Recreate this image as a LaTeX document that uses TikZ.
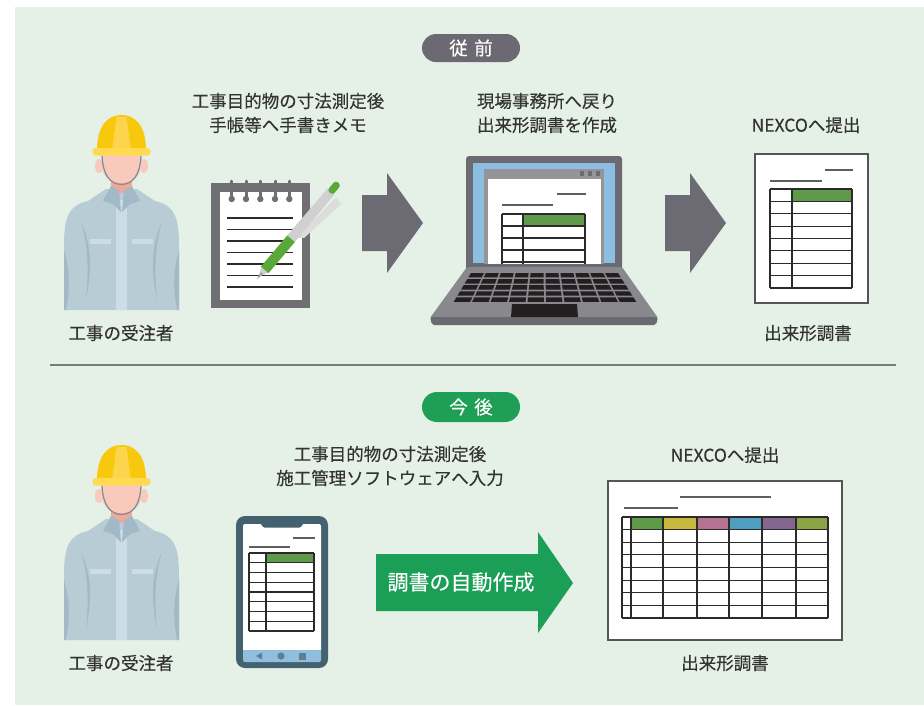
\documentclass[tikz,border=0pt]{standalone}
\usepackage{fontspec}
\setmainfont{Noto Sans CJK JP}
\newfontfamily\labelfont[FakeBold=0.3]{Noto Sans CJK JP}
\usetikzlibrary{calc}

\definecolor{bgmint}{HTML}{E5F0E6}
\definecolor{txt}{HTML}{333333}
\definecolor{sepgray}{HTML}{7A7A7A}
\definecolor{arrowgray}{HTML}{6C6A72}
\definecolor{pillgray}{HTML}{6B6A73}
\definecolor{pillgreen}{HTML}{1F9F55}
\definecolor{arrowgreen}{HTML}{1B9E56}
\definecolor{tablegreen}{HTML}{5F9A4B}
\definecolor{colyellow}{HTML}{C6B93E}
\definecolor{colpink}{HTML}{B77191}
\definecolor{colblue}{HTML}{4F9DBF}
\definecolor{colpurple}{HTML}{83678F}
\definecolor{cololive}{HTML}{8AA446}
\definecolor{helmet}{HTML}{F7C80C}
\definecolor{helmetlight}{HTML}{FDD54C}
\definecolor{brim}{HTML}{FFDA50}
\definecolor{skin}{HTML}{F9C9BB}
\definecolor{neckpink}{HTML}{F3A798}
\definecolor{strap}{HTML}{7E8C96}
\definecolor{jacket}{HTML}{B8CCD6}
\definecolor{jacketdark}{HTML}{A2BAC7}
\definecolor{jacketlight}{HTML}{CCDDE5}
\definecolor{padgray}{HTML}{6E6E73}
\definecolor{pengreen}{HTML}{5AA838}
\definecolor{pengray}{HTML}{D0D0D0}
\definecolor{clipgray}{HTML}{DCDCDC}
\definecolor{nibgray}{HTML}{A8A8AC}
\definecolor{bezel}{HTML}{6B6A70}
\definecolor{screenblue}{HTML}{8BBEE0}
\definecolor{wingray}{HTML}{949499}
\definecolor{basegray}{HTML}{88888D}
\definecolor{keyblack}{HTML}{231F20}
\definecolor{phonebody}{HTML}{44616F}
\definecolor{navblue}{HTML}{8FBEDF}
\definecolor{navicon}{HTML}{5F7E8E}
\definecolor{docedge}{HTML}{555555}
\definecolor{docline}{HTML}{5F5F5F}
\definecolor{gridline}{HTML}{2B2B2B}

% construction worker in a hard hat, drawn at a vertical offset
\newcommand\drawworker[1]{%
\begin{scope}[shift={(0,#1)}]
  % jacket
  \fill[jacket] (64,310) -- (64,245) .. controls (64,215) and (70,205) .. (88,201)
    -- (106,189) -- (137,189) -- (155,201) .. controls (173,205) and (179,215) .. (179,245)
    -- (179,310) -- cycle;
  % arm creases
  \fill[jacketdark] (81,222) .. controls (88,245) and (89,270) .. (86,300)
    .. controls (92,270) and (92,245) .. (81,222) -- cycle;
  \fill[jacketdark] (162,222) .. controls (155,245) and (154,270) .. (157,300)
    .. controls (151,270) and (151,245) .. (162,222) -- cycle;
  \fill[jacketdark] (64,250) .. controls (70,270) and (70,290) .. (66,310) -- (64,310) -- cycle;
  \fill[jacketdark] (179,250) .. controls (173,270) and (173,290) .. (177,310) -- (179,310) -- cycle;
  % placket and pocket flaps
  \fill[jacketlight] (116,200) rectangle (127,310);
  \fill[jacketlight] (90,239) rectangle (111,244);
  \fill[jacketlight] (132,239) rectangle (153,244);
  % neck
  \fill[neckpink] (111,176) rectangle (132,193);
  % collar
  \fill[jacketdark] (103,201) -- (111,186) -- (119,190) -- (121,212) -- (113,204) -- cycle;
  \fill[jacketdark] (140,201) -- (132,186) -- (124,190) -- (122,212) -- (130,204) -- cycle;
  % ears and face
  \fill[skin] (99,166) ellipse (4 and 7);
  \fill[skin] (144,166) ellipse (4 and 7);
  \fill[skin] (101.5,152) -- (101.5,164) .. controls (102,178) and (111,183) .. (121.5,183)
    .. controls (132,183) and (141,178) .. (141.5,164) -- (141.5,152) -- cycle;
  % chin strap
  \draw[strap, line width=1.2pt] (102,156) .. controls (103,175) and (110,184) .. (121.5,184.5)
    .. controls (133,184) and (140,175) .. (141,156);
  % helmet
  \fill[helmet] (97,151) .. controls (97,125) and (108,115) .. (121.5,115)
    .. controls (135,115) and (146,125) .. (146,151) -- cycle;
  \fill[helmetlight] (116.5,117) -- (126.5,117) -- (131,150) -- (112,150) -- cycle;
  \fill[brim, rounded corners=3] (92.5,148) rectangle (150.5,155.5);
\end{scope}}

\begin{document}
\begin{tikzpicture}[x=1pt,y=-1pt,
  lbl/.style={text=txt, font=\labelfont\fontsize{17.5}{24}\selectfont, inner sep=0pt, align=center},
  pilltext/.style={text=white, font=\labelfont\fontsize{18.5}{20}\selectfont, inner sep=0pt},
  paper/.style={fill=white, draw=docedge, line width=1.2pt},
  gridln/.style={draw=gridline, line width=1.2pt},
  headln/.style={draw=docline, line width=1.4pt},
]
\useasboundingbox (0,0) rectangle (924,705);
\fill[bgmint] (15,7) rectangle (924,705);

% ---------- section headings ----------
\fill[pillgray, rounded corners=14] (422,34) rectangle (520,62);
\node[pilltext] (before) at (471,48) {従\hspace{0.35em}前};
\fill[pillgreen, rounded corners=15] (422,392) rectangle (520,422);
\node[pilltext] (after) at (471,407) {今\hspace{0.35em}後};

% separator
\coordinate (sepL) at (50,365);
\coordinate (sepR) at (896,365);
\draw[sepgray, line width=1.2pt] (sepL) -- (sepR);

% ---------- workers ----------
\drawworker{0}
\drawworker{330}
\node[lbl] (worker1) at (121,333) {工事の受注者};
\node[lbl] (worker2) at (121,663) {工事の受注者};

% ---------- notepad and pen ----------
\fill[padgray] (211,183) rectangle (310,308);
\fill[white] (220,192) rectangle (302,300);
\foreach \i in {0,...,6}
  \draw[gridline, line width=1.3pt] (227,{218+\i*11.5}) -- (293,{218+\i*11.5});
\foreach \x in {231.7,246,260.3,275,289.3} {
  \draw[padgray, line width=3pt, line cap=round] (\x,181) -- (\x,197);
  \fill[padgray] (\x,199) circle (3.2);
}
\begin{scope}[shift={(257,279)}, rotate=49.8]
  \fill[clipgray] (56,3) -- (113,8) -- (112,16) -- (62,9.5) -- cycle;
  \fill[nibgray] (0,0) -- (9,-2.3) -- (9,2.3) -- cycle;
  \fill[pengray] (8,-2.6) -- (13,-5) -- (13,5) -- (8,2.6) -- cycle;
  \fill[pengreen] (12,-5) rectangle (53,5);
  \fill[pengray] (53,-5) -- (115,-4.5) -- (115,4.5) -- (53,5) -- cycle;
  \fill[pengreen, rounded corners=3] (113,-3.6) rectangle (126,3.6);
\end{scope}
\node[lbl] (memo) at (288,113) {工事目的物の寸法測定後\\手帳等へ手書きメモ};

% ---------- arrows (before) ----------
\fill[arrowgray] (362,195) -- (387,195) -- (387,173) -- (423,223) -- (387,273) -- (387,251) -- (362,251) -- cycle;
\fill[arrowgray] (665,195) -- (690,195) -- (690,173) -- (726,223) -- (690,273) -- (690,251) -- (665,251) -- cycle;

% ---------- laptop ----------
\fill[bezel, rounded corners=3] (466,156) rectangle (622,272);
\fill[screenblue] (473,163) rectangle (615,263);
\begin{scope}
  \clip (473,163) rectangle (615,263);
  \fill[wingray] (484,169) rectangle (604,270);
  \fill[white] (488,179) rectangle (601,270);
  \foreach \x in {582,590,598} \fill[bezel] (\x-2.3,171) rectangle (\x+2.3,175.5);
  \draw[headln] (557,194) -- (586,194);
  \draw[headln] (502,205) -- (553,205);
  \fill[tablegreen] (523,214) rectangle (585,226);
  \foreach \k in {0,...,4} \draw[gridln] (502,{214+\k*12}) -- (585,{214+\k*12});
  \foreach \x in {502,523,585} \draw[gridln] (\x,214) -- (\x,270);
\end{scope}
\fill[basegray, rounded corners=2] (467,267) -- (622,267) -- (658,318) -- (430,318) -- cycle;
\fill[bezel, rounded corners=2] (430,317) -- (658,317) -- (656,325) -- (432,325) -- cycle;
\foreach \r in {0,...,4} {
  \foreach \c in {0,...,9} {
    \pgfmathsetmacro\ya{273+\r*6.1}
    \pgfmathsetmacro\yb{\ya+4.4}
    \pgfmathsetmacro\la{470-18*(\ya-273)/30}
    \pgfmathsetmacro\ra{619+19*(\ya-273)/30}
    \pgfmathsetmacro\lb{470-18*(\yb-273)/30}
    \pgfmathsetmacro\rb{619+19*(\yb-273)/30}
    \pgfmathsetmacro\xaa{\la+(\ra-\la)*\c/10+1}
    \pgfmathsetmacro\xab{\la+(\ra-\la)*(\c+1)/10-1}
    \pgfmathsetmacro\xba{\lb+(\rb-\lb)*\c/10+1}
    \pgfmathsetmacro\xbb{\lb+(\rb-\lb)*(\c+1)/10-1}
    \fill[keyblack] (\xaa,\ya) -- (\xab,\ya) -- (\xbb,\yb) -- (\xba,\yb) -- cycle;
  }
}
\fill[keyblack] (512,304) -- (577,304) -- (578,317) -- (511,317) -- cycle;
\node[lbl] (office) at (547,113) {現場事務所へ戻り\\出来形調書を作成};

% ---------- submitted sheet (before) ----------
\filldraw[paper] (755,154) rectangle (868,303);
\draw[headln] (825,170) -- (853,170);
\draw[headln] (770,181) -- (822,181);
\fill[tablegreen] (792,189) rectangle (852,201.4);
\foreach \k in {0,...,8} \draw[gridln] (770,{189+\k*12.375}) -- (852,{189+\k*12.375});
\foreach \x in {770,792,852} \draw[gridln] (\x,189) -- (\x,288);
\node[lbl] (submit1) at (806,125) {NEXCOへ提出};
\node[lbl] (sheet1) at (808,333) {出来形調書};

% ---------- smartphone ----------
\fill[phonebody, rounded corners=9] (236,516) rectangle (328,668);
\fill[white, rounded corners=2] (243,524) rectangle (321,652);
\fill[navblue, rounded corners=2] (243,650) rectangle (321,662);
\fill[navblue] (243,650) rectangle (321,655);
\fill[phonebody, rounded corners=1.5] (260,522) -- (304,522) -- (301,527.5) -- (263,527.5) -- cycle;
\fill[navicon] (256,656) -- (262,652.5) -- (262,659.5) -- cycle;
\fill[navicon] (281,656) circle (3.6);
\fill[navicon] (298.5,652.5) rectangle (305.5,659.5);
\draw[headln, line width=1.2pt] (293,538) -- (315,538);
\draw[headln, line width=1.2pt] (249,547) -- (290,547);
\fill[tablegreen] (266,553) rectangle (314,562.75);
\foreach \k in {0,...,8} \draw[gridln, line width=1.1pt] (249,{553+\k*9.75}) -- (314,{553+\k*9.75});
\foreach \x in {249,266,314} \draw[gridln, line width=1.1pt] (\x,553) -- (\x,631);
\node[lbl] (input) at (390,466) {工事目的物の寸法測定後\\施工管理ソフトウェアへ入力};

% ---------- automatic generation arrow ----------
\fill[arrowgreen] (376,554) -- (538,554) -- (538,532) -- (573,583) -- (538,633) -- (538,611) -- (376,611) -- cycle;
\node[text=white, font=\labelfont\fontsize{21}{24}\selectfont, inner sep=0pt] (auto) at (461,582) {調書の自動作成};

% ---------- submitted sheet (after) ----------
\filldraw[paper] (608,481) rectangle (842,640);
\draw[headln] (680,497) -- (771,497);
\draw[headln] (624,508) -- (678,508);
\foreach \a/\b/\col in {631/663/tablegreen, 663/697/colyellow, 697/729/colpink,
                        729/762/colblue, 762/796/colpurple, 796/828/cololive}
  \fill[\col] (\a,517) rectangle (\b,529.6);
\foreach \k in {0,...,8} \draw[gridln] (622,{517+\k*12.625}) -- (828,{517+\k*12.625});
\foreach \x in {622,631,663,697,729,762,796,828} \draw[gridln] (\x,517) -- (\x,618);
\node[lbl] (submit2) at (725,455) {NEXCOへ提出};
\node[lbl] (sheet2) at (725,663) {出来形調書};
\end{tikzpicture}
\end{document}
